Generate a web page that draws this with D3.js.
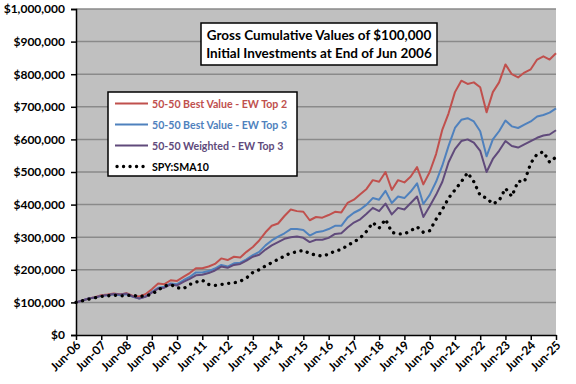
<!DOCTYPE html>
<html><head><meta charset="utf-8">
<script src="https://cdn.jsdelivr.net/npm/d3@7"></script>
<style>body{margin:0;background:#fff}svg{display:block}text{font-family:Lato,"Open Sans",sans-serif;font-weight:bold}</style>
</head><body><svg id="c" width="576" height="384"></svg>
<script>
// quarterly readings (thousands of $), Jun-2006 .. Jun-2025
const seriesNames = ["50-50 Best Value - EW Top 2","50-50 Best Value - EW Top 3","50-50 Weighted - EW Top 3","SPY:SMA10"];
const bestTop2 = [100,106,112, 116,122,124,127, 124,128,120,118, 125,140,158,156, 168,166,178,190, 205,205,210,218, 235,230,240,238,
 255,270,290,315, 335,342,365,385, 380,378,352,362, 360,368,378,376, 405,415,432,448, 475,470,500,445, 475,468,486,515,
 462,500,555,630, 680,745,780,770, 775,760,683,745, 775,830,800,790, 805,815,845,855, 845,864];
const bestTop3 = [100,106,112, 115,120,122,125, 122,125,117,112, 118,132,145,148, 158,156,168,178, 192,192,196,204, 215,210,220,222,
 232,245,255,275, 290,302,312,325, 325,322,305,315, 318,325,335,335, 360,375,385,400, 420,415,442,405, 425,420,440,465,
 402,430,470,520, 580,635,660,665, 655,625,548,600, 625,658,640,635, 645,655,670,675, 682,695];
const weighted = [100,106,112, 115,120,123,126, 124,127,118,112, 117,130,142,145, 155,152,163,172, 183,185,190,198, 210,206,215,218,
 228,240,246,262, 275,285,295,300, 302,298,285,292, 292,298,310,312, 330,345,355,372, 390,380,403,370, 390,385,405,425,
 362,395,430,470, 530,570,595,600, 590,565,500,540, 565,595,580,575, 585,595,605,612, 615,628];
const spySma = [100,105,110, 114,118,120,122, 120,121,122,118, 120,125,138,150, 155,145,142,155, 162,168,155,152, 155,158,160,165,
 175,192,200,212, 222,232,242,252, 255,260,250,245, 242,248,258,262, 275,285,298,318, 345,328,355,315, 310,310,320,332,
 315,320,355,385, 420,445,470,498, 470,428,420,402, 412,450,425,472, 470,527,555,562, 530,546];
const yTicks = [0,100000,200000,300000,400000,500000,600000,700000,800000,900000,1000000];
const xTickLabels = ["Jun-06","Jun-07","Jun-08","Jun-09","Jun-10","Jun-11","Jun-12","Jun-13","Jun-14","Jun-15","Jun-16","Jun-17","Jun-18","Jun-19","Jun-20","Jun-21","Jun-22","Jun-23","Jun-24","Jun-25"];
const titleLines = ["Gross Cumulative Values of $100,000","Initial Investments at End of Jun 2006"];
const colors = ["#C0504D","#4F81BD","#604A7B","#000000"];

const dates = bestTop2.map((d,i)=>new Date(2006,5+3*i,1));
const xt = xTickLabels.map((d,i)=>new Date(2006+i,5,1));
const allSeries = [bestTop2,bestTop3,weighted,spySma];
const svg = d3.select("#c");
const L=76,R=556,T=9,B=335;
const x = d3.scaleTime().domain([new Date(2006,5,1), new Date(2025,5,1)]).range([L,R]);
const y = d3.scaleLinear().domain([0,1000000]).range([B,T]);

svg.append("rect").attr("x",L).attr("y",T).attr("width",R-L).attr("height",B-T).attr("fill","#C0C0C0");
svg.append("g").selectAll("line").data(yTicks.filter(d=>d>0)).join("line")
  .attr("x1",L).attr("x2",R).attr("y1",d=>y(d)).attr("y2",d=>y(d)).attr("stroke","#8a8a8a").attr("stroke-width",1.5);

const line = d3.line().x((d,i)=>x(dates[i])).y(d=>y(d*1000));
allSeries.forEach((s,k)=>{
  const p = svg.append("path").attr("d",line(s)).attr("fill","none").attr("stroke",colors[k]);
  if(k===3) p.attr("stroke-width",3.3).attr("stroke-dasharray","0.1,6.6").attr("stroke-linecap","round");
  else p.attr("stroke-width",2).attr("stroke-linejoin","round");
});
const yAxis = svg.append("g").attr("transform",`translate(${L},0)`)
  .call(d3.axisLeft(y).tickValues(yTicks).tickSize(5).tickPadding(6).tickFormat(d=>"$"+d3.format(",")(d)));
yAxis.select(".domain").attr("stroke","#000").attr("stroke-width",1.5);
yAxis.selectAll(".tick line").attr("stroke","#000").attr("stroke-width",1.5);
yAxis.selectAll("text").attr("font-size",12).attr("fill","#000").attr("font-family","Lato");

const xAxis = svg.append("g").attr("transform",`translate(0,${B})`)
  .call(d3.axisBottom(x).tickValues(xt).tickSize(5).tickSizeOuter(0).tickFormat((d,i)=>xTickLabels[i]));
xAxis.select(".domain").attr("stroke","#000").attr("stroke-width",1.5);
xAxis.selectAll(".tick line").attr("stroke","#000").attr("stroke-width",1.5);
xAxis.selectAll("text").attr("font-size",12).attr("fill","#000").attr("font-family","Lato")
  .attr("text-anchor","end").attr("dy",0).attr("y",0)
  .attr("transform","translate(5,11) rotate(-45)");

// title box
const tb = svg.append("g");
tb.append("rect").attr("x",201).attr("y",23).attr("width",236).attr("height",42).attr("fill","#fff").attr("stroke","#000").attr("stroke-width",1.5);
titleLines.forEach((t,i)=>tb.append("text").attr("x",319).attr("y",40+i*18).attr("text-anchor","middle").attr("font-size",13.5).attr("fill","#000").text(t));

// legend
const lg = svg.append("g");
lg.append("rect").attr("x",108).attr("y",92).attr("width",189).attr("height",84).attr("fill","#fff").attr("stroke","#000").attr("stroke-width",1.5);
seriesNames.forEach((n,i)=>{
  const yy = 103.5+i*21;
  const l = lg.append("line").attr("x1",115).attr("x2",148).attr("y1",yy).attr("y2",yy).attr("stroke",colors[i]);
  if(i===3) l.attr("x1",117).attr("stroke-width",3.3).attr("stroke-dasharray","0.1,6.4").attr("stroke-linecap","round");
  else l.attr("stroke-width",2);
  lg.append("text").attr("x",152).attr("y",yy+4).attr("font-size",10.6).attr("fill",colors[i]).text(n);
});
</script></body></html>
